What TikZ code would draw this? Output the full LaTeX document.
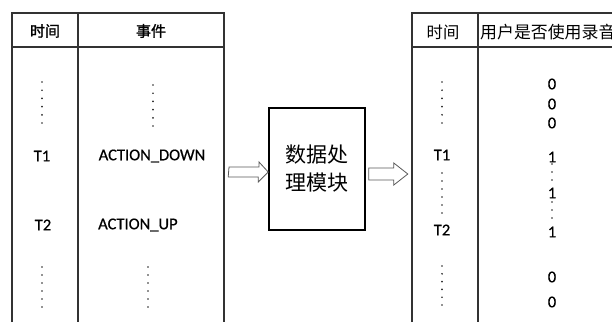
\documentclass[tikz,border=0pt]{standalone}
\usepackage{fontspec}
\usetikzlibrary{calc}
\setmainfont{Carlito}
\newfontfamily\lat[FakeBold=0.6]{Carlito}
\newfontfamily\cjk{Noto Sans CJK SC}
\newfontfamily\cjkb[FakeBold=1.5]{Noto Sans CJK SC}
\begin{document}
\begin{tikzpicture}[x=1pt,y=-1pt,
  grid/.style={draw=black!80,line width=1.4pt},
  hdr/.style={inner sep=0pt,font=\cjkb\fontsize{15}{15}\selectfont},
  hdrr/.style={inner sep=0pt,font=\cjk\fontsize{16.3}{16}\selectfont},
  hdrw/.style={inner sep=0pt,font=\cjk\fontsize{16.9}{16}\selectfont},
  cell/.style={inner sep=0pt,font=\lat\fontsize{16.5}{16}\selectfont},
  proc/.style={draw=black,line width=1.6pt,minimum width=96pt,minimum height=122pt,inner sep=0pt,
    align=center,font=\cjk\fontsize{21}{28}\selectfont},
  hollow/.style={draw=black!65,line width=0.8pt,fill=white,line join=miter},
  dotc/.style={fill=black!85}]
\useasboundingbox (0,0) rectangle (612,322);
\clip (0,0) rectangle (612,322);
% left table
\draw[grid] (12,322) -- (12,13) -- (224,13) -- (224,322);
\draw[grid] (78,13) -- (78,322);
\draw[grid] (12,47) -- (224,47);
\node[hdr] (lh1) at (45,31) {时间};
\node[hdr] (lh2) at (151,31) {事件};
\node[cell] (lt1) at (42,156) {T1};
\node[cell] (ld) at (152,156) {ACTION\_DOWN};
\node[cell] (lt2) at (43,225) {T2};
\node[cell,anchor=west] (lu) at (98,225) {ACTION\_UP};
\foreach \y in {0,...,5}{
  \fill[dotc] (42,82+8.2*\y) circle (0.95);
  \fill[dotc] (153,85+8.2*\y) circle (0.95);
  \fill[dotc] (42,267+8*\y) circle (0.95);
  \fill[dotc] (148,267+8*\y) circle (0.95);
}
% processing box
\node[proc] (box) at (317,169) {数据处\\理模块};
% right table
\draw[grid] (412,322) -- (412,13) -- (640,13);
\draw[grid] (478,13) -- (478,322);
\draw[grid] (412,47) -- (640,47);
\node[hdrr] (rh1) at (443,32) {时间};
\node[hdrw,anchor=west] (rh2) at (480,32) {用户是否使用录音};
\node[cell] (rt1) at (442,155) {T1};
\node[cell] (rt2) at (442,230) {T2};
\foreach \n/\y/\v in {a/84/0,b/104/0,c/123/0,d/157/1,e/193/1,f/232/1,g/277/0,h/302/0}{
  \node[cell] (v\n) at (552,\y) {\v};
}
\foreach \y in {0,...,5}{
  \fill[dotc] (442,82+8.2*\y) circle (0.95);
  \fill[dotc] (442,173+8*\y) circle (0.95);
  \fill[dotc] (442,266+7.8*\y) circle (0.95);
}
\foreach \y in {164,172,180,202,210,218}{
  \fill[dotc] (552,\y) circle (0.95);
}
% hollow block arrows
\coordinate (la) at (229,172);
\draw[hollow] (la) ++(0,-5) -- ++(30,0) -- ++(0,-5) -- (box.west|-la) -- ++(-10,10) -- ++(0,-5) -- ++(-30,0) -- cycle;
\coordinate (ra) at ($(box.east|-la)+(3,2)$);
\draw[hollow] (ra) ++(0,-6) -- ++(25,0) -- ++(0,-5) -- ++(14,11) -- ++(-14,11) -- ++(0,-5) -- ++(-25,0) -- cycle;
\end{tikzpicture}
\end{document}
